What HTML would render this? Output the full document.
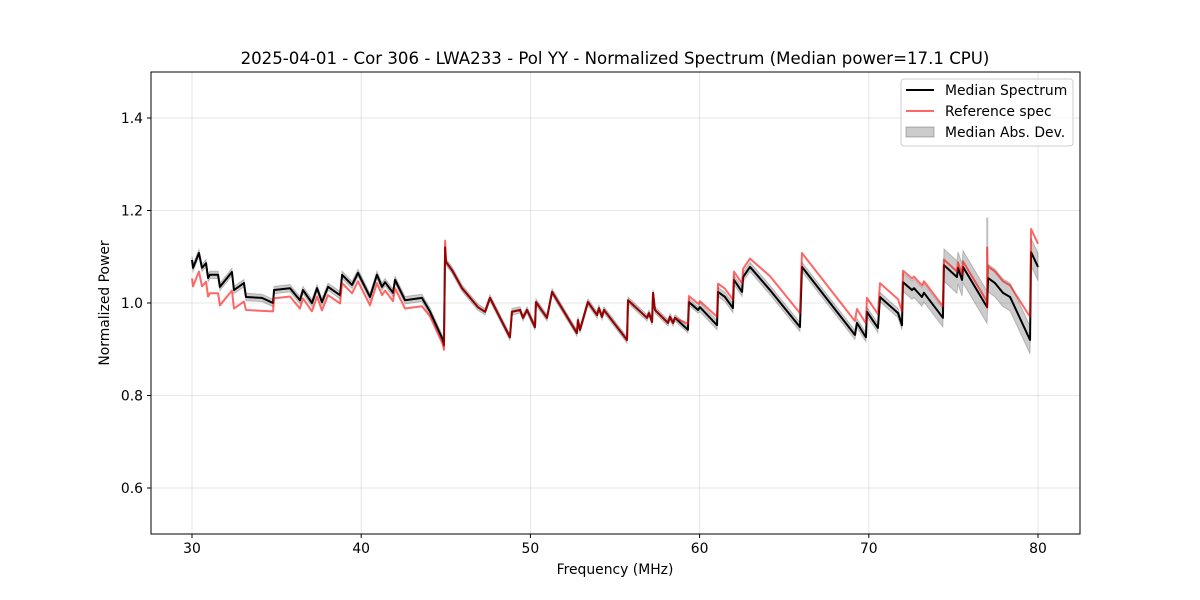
<!DOCTYPE html>
<html><head><meta charset="utf-8"><style>
body{margin:0;background:#fff}
svg{display:block;font-family:"DejaVu Sans","Liberation Sans",sans-serif}
</style></head><body>
<svg id="chart" width="1200" height="600" viewBox="0 0 1200 600">
<rect width="1200" height="600" fill="#fff"/>
<text x="615" y="64" text-anchor="middle" font-size="16.6">2025-04-01 - Cor 306 - LWA233 - Pol YY - Normalized Spectrum (Median power=17.1 CPU)</text>
<g id="grid"></g>
<g id="marks"></g>
<rect x="151" y="72" width="929" height="462" fill="none" stroke="#000" stroke-width="1"/>
<g id="axes"></g>
<text x="615" y="574" text-anchor="middle" font-size="13.9">Frequency (MHz)</text>
<text x="109" y="303" text-anchor="middle" font-size="13.9" transform="rotate(-90 109 303)">Normalized Power</text>
<g>
<rect x="901" y="79" width="172" height="67" rx="3" fill="#fff" fill-opacity="0.8" stroke="#ccc"/>
<line x1="906" y1="90" x2="934" y2="90" stroke="#000" stroke-width="2"/>
<text x="945" y="95" font-size="13.9">Median Spectrum</text>
<line x1="906" y1="111" x2="934" y2="111" stroke="#ff0000" stroke-opacity="0.6" stroke-width="2"/>
<text x="945" y="116" font-size="13.9">Reference spec</text>
<rect x="906" y="127" width="28" height="10" fill="#000" fill-opacity="0.2" stroke="#000" stroke-opacity="0.25"/>
<text x="945" y="137" font-size="13.9">Median Abs. Dev.</text>
</g>
</svg>
<script>
const freq=[30.00,30.06,30.41,30.59,30.83,30.95,31.06,31.54,31.65,32.36,32.48,33.07,33.19,34.14,34.79,34.85,35.79,36.38,36.56,37.09,37.39,37.68,38.04,38.75,38.87,39.46,39.81,40.52,40.93,41.23,41.41,41.88,42.00,42.59,43.59,44.07,44.83,44.89,44.96,45.01,45.37,45.96,46.90,47.32,47.61,48.79,48.91,49.39,49.56,49.80,50.27,50.33,50.98,51.28,52.75,52.81,52.93,53.40,53.94,54.05,54.23,54.35,55.71,55.77,56.89,57.01,57.19,57.25,57.36,58.13,58.25,58.43,58.55,59.31,59.37,59.91,60.02,61.03,61.09,61.50,61.97,62.03,62.51,62.57,62.98,64.16,65.93,66.05,69.18,69.30,69.83,69.89,70.54,70.66,71.73,71.96,72.02,72.55,72.67,73.14,73.26,74.38,74.44,75.21,75.27,75.51,75.57,76.99,77.05,77.46,77.93,78.35,79.53,79.59,80.00];
const median=[1.093,1.076,1.108,1.076,1.086,1.054,1.061,1.061,1.035,1.067,1.028,1.043,1.013,1.011,1.000,1.028,1.032,1.006,1.028,1.000,1.032,1.002,1.035,1.017,1.061,1.039,1.065,1.013,1.061,1.035,1.045,1.022,1.050,1.006,1.011,0.981,0.920,0.909,1.120,1.089,1.071,1.032,0.991,0.981,1.011,0.926,0.981,0.985,0.968,0.985,0.948,1.002,0.968,1.024,0.935,0.963,0.942,1.002,0.974,0.989,0.970,0.985,0.920,1.006,0.968,0.978,0.959,1.022,0.985,0.957,0.970,0.957,0.968,0.942,1.002,0.985,0.991,0.952,1.024,1.013,0.989,1.050,1.024,1.056,1.078,1.028,0.948,1.078,0.931,0.957,0.926,0.981,0.946,1.013,0.978,0.952,1.045,1.028,1.032,1.013,1.022,0.968,1.082,1.056,1.076,1.050,1.078,0.991,1.054,1.043,1.022,1.013,0.920,1.110,1.078];
const refOffFreq=[30,33.19,34.79,44.0,45.0,59.3,61.0,64.0,72.0,74.4,77.0,79.5,80.01];
const refOffVal=[-0.04,-0.028,-0.018,-0.01,0,0.013,0.018,0.03,0.025,0.012,0.025,0.05];
const madFreq=[30,45,60,72,74.4,77,80.01];
const madVal=[0.008,0.007,0.01,0.02,0.035,0.03];
const spikeFreq=[77.0];
const spikeRef=[1.12];
const spikeMad=[1.185];
const xTicks=[30,40,50,60,70,80];
const yTicks=[0.6,0.8,1.0,1.2,1.4];
const yTickLabels=["0.6","0.8","1.0","1.2","1.4"];

const X=f=>192+(f-30)*16.92;
const Y=v=>303-(v-1)*462.5;
const NS="http://www.w3.org/2000/svg";
function mk(t,p,a){const e=document.createElementNS(NS,t);for(const k in a)e.setAttribute(k,a[k]);p.appendChild(e);return e;}
function step(fs,vs,f){for(let i=0;i<vs.length;i++){if(f>=fs[i]&&f<fs[i+1])return vs[i];}return vs[vs.length-1];}
const grid=document.getElementById('grid'),axes=document.getElementById('axes'),marks=document.getElementById('marks');
xTicks.forEach(t=>{
  const g=mk('line',grid,{x1:X(t),x2:X(t),y1:72,y2:534,stroke:'#b0b0b0','stroke-opacity':0.4,'stroke-width':0.8});
  
  const tk=mk('line',axes,{x1:X(t),x2:X(t),y1:534,y2:538,stroke:'#000'});
  
  const tx=mk('text',axes,{x:X(t),y:553,'text-anchor':'middle','font-size':13.9});tx.textContent=t;
  
});
yTicks.forEach((t,i)=>{
  const g=mk('line',grid,{x1:151,x2:1080,y1:Y(t),y2:Y(t),stroke:'#b0b0b0','stroke-opacity':0.4,'stroke-width':0.8});
  
  const tk=mk('line',axes,{x1:147,x2:151,y1:Y(t),y2:Y(t),stroke:'#000'});
  
  const tx=mk('text',axes,{x:143,y:Y(t)+5,'text-anchor':'end','font-size':13.9});tx.textContent=yTickLabels[i];
  
});
let up=[],dn=[];
freq.forEach((f,i)=>{const m=step(madFreq,madVal,f);up.push(X(f)+','+Y(median[i]+m));dn.unshift(X(f)+','+Y(median[i]-m));});
const band=mk('polygon',marks,{points:up.concat(dn).join(' '),fill:'#000','fill-opacity':0.2,stroke:'#000','stroke-opacity':0.2,'stroke-width':1});

spikeFreq.forEach((f,i)=>{
  const s=mk('line',marks,{x1:X(f),x2:X(f),y1:Y(spikeMad[i]),y2:Y(1.0),stroke:'#000','stroke-opacity':0.25,'stroke-width':2});
  
});
const med=mk('polyline',marks,{points:freq.map((f,i)=>X(f)+','+Y(median[i])).join(' '),fill:'none',stroke:'#000','stroke-width':2,'stroke-linejoin':'round'});

let rp=[];
freq.forEach((f,i)=>{let v=median[i]+step(refOffFreq,refOffVal,f);if(i===38)v=1.135;rp.push(X(f)+','+Y(v));
  spikeFreq.forEach((sf,j)=>{if(f<sf&&freq[i+1]>=sf){rp.push(X(sf)+','+Y(0.99));rp.push(X(sf)+','+Y(spikeRef[j]));rp.push(X(sf+0.02)+','+Y(1.05));}});});
const ref=mk('polyline',marks,{points:rp.join(' '),fill:'none',stroke:'#ff0000','stroke-opacity':0.6,'stroke-width':2,'stroke-linejoin':'round'});

</script>
</body></html>
